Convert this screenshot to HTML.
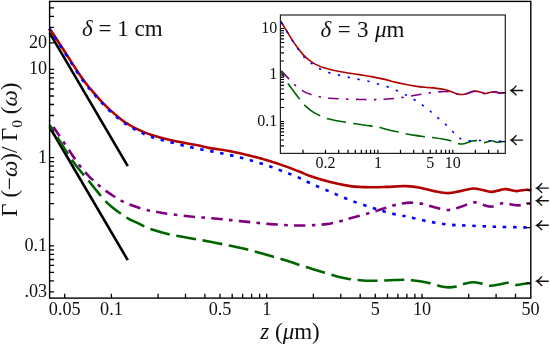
<!DOCTYPE html>
<html><head><meta charset="utf-8"><title>plot</title>
<style>html,body{margin:0;padding:0;background:#fff;}body{width:550px;height:344px;position:relative;overflow:hidden;font-family:"Liberation Serif",serif;}</style>
</head><body>
<svg width="550" height="344" viewBox="0 0 550 344" style="position:absolute;left:0;top:0">
<rect x="0" y="0" width="550" height="344" fill="#fff"/>
<g fill="none" stroke-width="2.6" stroke-linecap="butt" stroke-linejoin="round">
<path d="M49.6,32.9L127.8,166.1" stroke="#000"/>
<path d="M49.6,127L127.8,260.2" stroke="#000"/>
<path d="M49.6,125.0C51.3,127.8 56.3,135.7 60.0,141.5C63.7,147.3 68.7,155.2 72.0,160.0C75.3,164.8 77.8,167.7 80.0,170.5C82.2,173.3 83.5,174.8 85.2,176.8C86.9,178.8 88.5,180.6 90.1,182.6C91.7,184.6 93.3,186.6 95.0,188.7C96.7,190.8 98.3,192.9 100.2,195.1C102.1,197.3 104.2,199.8 106.2,201.8C108.2,203.8 109.9,205.3 112.2,207.2C114.5,209.1 117.5,211.3 120.2,213.2C122.9,215.1 125.6,217.1 128.3,218.6C131.0,220.1 133.6,221.1 136.3,222.4C139.0,223.7 142.0,225.2 144.3,226.3C146.6,227.4 145.8,227.6 150.1,229.0C154.4,230.4 163.5,233.1 170.2,234.6C176.9,236.1 183.5,237.0 190.2,238.2C196.9,239.4 203.6,240.5 210.3,241.8C217.0,243.1 223.8,244.4 230.4,245.8C237.0,247.2 243.5,248.5 250.1,250.2C256.7,251.9 263.5,253.9 270.2,255.8C276.9,257.7 284.2,259.9 290.2,261.8C296.2,263.7 300.4,265.3 306.0,267.1C311.6,268.9 318.4,270.9 324.1,272.6C329.8,274.3 335.9,276.1 340.2,277.2C344.5,278.3 346.9,278.7 350.2,279.2C353.5,279.7 356.8,279.9 360.2,280.2C363.6,280.5 366.9,280.7 370.3,280.8C373.7,280.9 377.0,280.7 380.3,280.6C383.6,280.5 386.5,280.3 390.4,280.2C394.2,280.1 399.8,279.8 403.4,279.8C407.0,279.8 409.2,280.0 412.0,280.2C414.8,280.4 417.1,280.7 420.1,281.2C423.1,281.7 426.8,282.4 430.1,283.2C433.5,284.0 437.2,285.5 440.2,286.2C443.2,286.9 445.5,287.3 448.2,287.4C450.9,287.5 453.5,287.2 456.2,286.6C458.9,286.0 461.4,284.5 464.3,283.8C467.2,283.1 470.3,282.2 473.3,282.2C476.3,282.2 479.5,283.2 482.3,283.8C485.1,284.4 487.4,285.7 490.4,285.8C493.4,285.9 497.4,284.7 500.4,284.2C503.4,283.7 505.8,282.7 508.4,282.8C511.0,282.9 513.6,284.8 516.3,285.0C518.9,285.2 521.8,284.1 524.3,283.8C526.8,283.5 529.9,283.3 531.0,283.2" stroke="#006400" stroke-dasharray="20 6.7" stroke-dashoffset="12.3"/>
<path d="M49.6,28.5C51.4,31.2 56.7,39.2 60.1,44.5C63.5,49.8 66.8,54.8 70.1,60.0C73.4,65.2 77.2,71.2 80.2,75.5C83.2,79.8 86.0,83.5 88.0,86.0C90.0,88.5 90.1,88.5 92.1,90.8C94.1,93.1 97.2,96.9 100.2,100.1C103.2,103.3 106.5,106.8 110.2,110.1C113.9,113.4 119.0,117.7 122.2,120.2C125.4,122.7 127.0,123.5 129.5,125.0C132.0,126.5 134.8,128.0 137.3,129.2C139.8,130.4 142.0,131.4 144.5,132.4C147.0,133.4 149.7,134.3 152.4,135.2C155.2,136.1 158.1,136.9 161.0,137.7C163.9,138.5 166.0,139.0 170.0,139.9C174.0,140.8 180.0,142.0 185.0,143.0C190.0,144.0 195.8,145.0 200.0,145.8C204.2,146.7 205.1,147.2 210.1,148.1C215.1,149.0 223.5,150.0 230.2,151.3C236.9,152.6 243.5,154.0 250.2,155.7C256.9,157.3 264.3,159.4 270.3,161.2C276.3,163.0 281.4,164.8 286.4,166.6C291.3,168.4 296.1,170.2 300.0,171.8C303.9,173.4 305.1,174.4 310.1,176.1C315.1,177.8 323.5,180.4 330.2,182.1C336.9,183.8 343.5,185.2 350.2,186.1C356.9,187.0 364.3,187.2 370.3,187.3C376.3,187.4 381.4,187.1 386.4,186.9C391.3,186.7 396.7,186.4 400.0,186.3C403.3,186.2 402.6,185.9 406.0,186.1C409.4,186.3 415.4,186.9 420.1,187.7C424.8,188.5 429.5,190.2 434.2,191.1C438.9,192.0 443.8,193.1 448.2,193.1C452.6,193.1 456.2,191.9 460.3,191.1C464.4,190.3 469.3,188.7 473.0,188.5C476.7,188.3 479.3,189.3 482.3,189.9C485.3,190.5 488.0,191.9 491.0,191.9C494.0,191.9 497.6,190.6 500.2,190.1C502.8,189.6 503.6,188.9 506.3,189.1C509.0,189.3 513.0,191.0 516.3,191.1C519.6,191.2 523.8,189.8 526.3,189.7C528.8,189.6 530.6,190.2 531.5,190.3" stroke="#b00000"/>
<path d="M49.6,121.0C50.5,122.4 53.3,126.6 55.0,129.2C56.7,131.8 58.3,134.2 60.0,136.7C61.7,139.2 63.3,141.7 65.0,144.2C66.7,146.7 68.3,149.1 70.0,151.6C71.7,154.1 73.3,156.6 75.0,159.0C76.7,161.4 78.3,163.8 80.0,166.0C81.7,168.2 83.3,170.1 85.0,172.0C86.7,173.9 88.3,175.6 90.0,177.3C91.7,179.0 93.3,180.5 95.0,182.0C96.7,183.5 98.1,184.8 100.0,186.3C101.9,187.8 103.8,189.4 106.2,191.1C108.6,192.8 111.5,194.8 114.2,196.5C116.9,198.2 119.5,199.8 122.2,201.2C124.9,202.6 127.3,203.6 130.3,204.8C133.3,206.0 137.0,207.3 140.3,208.3C143.6,209.3 147.1,210.0 150.1,210.7C153.1,211.3 155.1,211.6 158.4,212.2C161.8,212.8 164.9,213.4 170.2,214.1C175.5,214.8 183.5,215.8 190.2,216.5C196.9,217.2 203.6,217.5 210.3,218.1C217.0,218.7 223.8,219.4 230.4,220.1C237.0,220.8 243.5,221.4 250.1,222.1C256.7,222.8 263.5,223.6 270.2,224.1C276.9,224.6 285.2,225.1 290.2,225.3C295.2,225.5 296.3,225.5 300.3,225.5C304.3,225.5 310.0,225.3 314.3,225.1C318.6,224.9 322.1,224.7 326.4,224.1C330.7,223.5 336.0,222.3 340.0,221.3C344.0,220.3 345.1,219.7 350.2,218.3C355.2,216.9 364.3,214.4 370.3,212.7C376.3,210.9 382.4,209.1 386.4,207.8C390.3,206.6 391.7,205.9 394.0,205.2C396.3,204.5 397.3,204.2 400.0,203.8C402.7,203.4 406.3,202.6 410.0,202.6C413.7,202.6 418.1,203.0 422.1,203.8C426.1,204.6 429.9,206.2 434.2,207.2C438.5,208.2 443.9,210.0 448.2,210.0C452.5,210.0 455.8,208.3 460.2,207.0C464.6,205.7 470.4,202.7 474.5,202.4C478.6,202.1 482.1,204.7 485.0,205.4C487.9,206.1 489.3,206.9 492.2,206.5C495.1,206.1 499.2,203.6 502.2,203.2C505.2,202.8 507.6,203.8 510.3,204.2C513.0,204.6 515.6,205.5 518.3,205.4C521.0,205.3 524.2,204.1 526.3,203.8C528.4,203.5 530.2,203.5 531.0,203.4" stroke="#800080" stroke-dasharray="11.5 6.3 3.6 6.3" stroke-dashoffset="20.8"/>
<path d="M49.2,28.8C51.0,31.5 56.3,39.5 59.7,44.8C63.1,50.0 66.4,55.1 69.7,60.3C73.0,65.5 76.8,71.8 79.8,76.2C82.8,80.6 85.7,84.3 87.7,86.9C89.8,89.5 90.0,89.4 92.1,91.8C94.2,94.2 97.2,97.8 100.2,101.1C103.2,104.3 106.5,107.9 110.2,111.3C113.9,114.7 119.0,119.0 122.2,121.5C125.4,124.0 127.0,124.9 129.5,126.4C132.0,128.0 134.8,129.5 137.3,130.8C139.8,132.1 142.0,133.1 144.5,134.2C147.0,135.3 149.7,136.3 152.4,137.2C155.2,138.1 158.1,139.0 161.0,139.8C163.9,140.6 165.2,140.9 170.0,142.1C174.8,143.3 183.3,145.6 190.0,147.1C196.7,148.6 203.3,149.8 210.0,151.1C216.7,152.4 223.3,153.6 230.0,155.1C236.7,156.6 243.5,158.3 250.2,160.2C256.9,162.1 264.3,164.5 270.3,166.6C276.3,168.7 281.4,170.7 286.4,172.6C291.3,174.5 296.1,176.4 300.0,178.2C303.9,179.9 305.1,180.8 310.1,183.1C315.1,185.4 323.5,189.0 330.2,191.8C336.9,194.7 343.5,197.6 350.2,200.2C356.9,202.8 364.3,205.2 370.3,207.2C376.3,209.2 381.4,210.8 386.4,212.2C391.3,213.5 396.1,214.5 400.0,215.3C403.9,216.1 405.0,216.1 410.0,217.2C415.0,218.3 423.5,220.6 430.2,221.8C436.9,223.1 443.5,224.0 450.2,224.7C456.9,225.3 462.9,225.4 470.3,225.7C477.7,226.0 486.1,226.4 494.4,226.7C502.7,227.0 514.2,227.1 520.3,227.3C526.4,227.5 529.2,227.6 531.0,227.7" stroke="#0000ff" stroke-dasharray="3.5 6.66" stroke-dashoffset="1.1"/>
</g>
<rect x="280.4" y="15.0" width="224.9" height="138.4" fill="#fff"/>
<g fill="none" stroke-width="1.6" stroke-linecap="butt" stroke-linejoin="round">
<path d="M280.6,70.5C281.0,71.2 281.9,73.1 283.0,75.0C284.1,76.9 285.3,79.5 287.0,82.1C288.7,84.7 291.1,87.8 293.1,90.5C295.1,93.2 297.1,96.0 299.1,98.5C301.1,101.0 302.9,103.4 305.1,105.6C307.3,107.8 309.6,109.7 312.1,111.4C314.6,113.1 317.5,114.6 320.2,115.8C322.9,117.0 325.4,118.0 328.2,118.8C331.0,119.6 334.3,120.2 337.2,120.8C340.1,121.4 342.3,121.7 345.3,122.2C348.3,122.7 352.0,123.3 355.3,123.8C358.6,124.3 362.0,124.7 365.4,125.2C368.8,125.7 373.0,126.2 375.4,126.6C377.8,127.0 377.7,126.9 380.0,127.5C382.3,128.1 386.1,129.2 389.1,130.0C392.1,130.8 395.3,131.4 398.1,132.0C400.9,132.6 403.2,133.1 406.1,133.7C409.0,134.3 412.2,134.9 415.2,135.4C418.2,135.9 421.2,136.2 424.2,136.6C427.2,137.0 430.3,137.2 433.2,137.6C436.1,138.0 439.1,138.4 441.3,138.8C443.5,139.2 444.8,139.4 446.5,139.8C448.2,140.2 450.1,140.7 451.5,141.1C452.9,141.5 453.9,142.0 455.0,142.4C456.1,142.8 457.0,143.2 458.0,143.5C459.0,143.8 460.0,144.0 461.0,144.0C462.0,144.0 463.0,143.9 464.0,143.7C465.0,143.5 466.1,143.1 467.0,142.8C467.9,142.5 468.6,142.2 469.5,141.9C470.4,141.6 471.6,141.2 472.5,141.0C473.4,140.8 474.3,140.6 475.2,140.6C476.1,140.6 477.0,140.6 478.0,140.8C479.0,141.0 480.3,141.5 481.4,141.8C482.5,142.1 483.5,142.6 484.5,142.6C485.5,142.6 486.5,142.2 487.5,141.9C488.5,141.6 489.7,140.9 490.7,140.8C491.7,140.7 492.5,141.0 493.5,141.2C494.5,141.4 495.6,142.0 496.5,142.2C497.4,142.3 498.2,142.2 499.0,142.1C499.8,142.0 500.3,141.7 501.4,141.6C502.4,141.5 504.6,141.4 505.3,141.4" stroke="#006400" stroke-dasharray="19.5 7.24" stroke-dashoffset="11.74"/>
<path d="M280.6,21.0C281.3,22.2 283.2,25.2 285.0,28.1C286.8,31.0 289.1,34.9 291.1,38.1C293.1,41.3 295.1,44.4 297.1,47.1C299.1,49.9 301.1,52.4 303.1,54.6C305.1,56.8 307.1,58.5 309.1,60.1C311.1,61.7 312.9,62.8 315.2,64.1C317.5,65.3 320.2,66.6 323.2,67.6C326.2,68.6 329.5,69.4 333.2,70.2C336.9,71.0 340.9,71.8 345.3,72.5C349.7,73.2 355.0,73.9 359.3,74.6C363.6,75.3 367.1,75.8 371.4,76.6C375.7,77.4 381.1,78.5 385.0,79.4C388.9,80.3 391.8,81.3 395.1,82.1C398.5,82.9 401.8,83.6 405.1,84.3C408.5,85.0 411.9,85.6 415.2,86.1C418.5,86.6 421.9,87.0 425.2,87.3C428.5,87.6 432.6,87.8 435.2,88.1C437.8,88.4 439.3,88.6 441.0,88.9C442.7,89.2 444.1,89.5 445.3,89.7C446.5,90.0 447.1,90.1 448.1,90.4C449.1,90.7 450.3,91.3 451.3,91.7C452.3,92.1 453.1,92.4 454.1,92.8C455.1,93.2 456.1,93.7 457.3,94.0C458.5,94.3 460.0,94.5 461.2,94.5C462.4,94.5 463.3,94.5 464.5,94.2C465.7,94.0 467.0,93.4 468.2,93.0C469.4,92.6 470.4,92.1 471.5,91.8C472.6,91.5 473.5,91.2 474.5,91.1C475.5,91.0 476.6,91.2 477.5,91.4C478.4,91.6 479.1,91.8 480.2,92.1C481.3,92.4 483.1,93.2 484.3,93.4C485.5,93.6 486.5,93.3 487.5,93.1C488.5,92.9 489.2,92.5 490.3,92.3C491.4,92.1 493.2,91.7 494.3,91.7C495.4,91.7 496.2,92.0 497.0,92.2C497.8,92.4 498.3,92.9 499.3,93.0C500.3,93.1 501.9,93.0 503.0,92.9C504.1,92.9 505.2,92.7 505.6,92.7" stroke="#b00000"/>
<path d="M280.6,69.5C281.3,70.4 283.6,73.2 285.0,74.8C286.4,76.4 287.4,77.4 289.1,79.1C290.8,80.8 292.8,83.1 295.1,85.1C297.4,87.1 300.4,89.5 303.1,91.1C305.8,92.7 308.4,93.6 311.1,94.5C313.8,95.4 316.2,96.1 319.2,96.7C322.2,97.3 325.2,97.8 329.2,98.2C333.2,98.6 338.3,98.8 343.3,99.0C348.3,99.2 354.0,99.4 359.3,99.5C364.6,99.6 370.7,99.6 375.0,99.6C379.3,99.5 381.6,99.4 385.0,99.2C388.4,99.0 391.8,98.8 395.1,98.4C398.5,98.1 401.8,97.6 405.1,97.1C408.5,96.6 411.9,95.9 415.2,95.3C418.5,94.7 421.9,94.0 425.2,93.5C428.5,93.0 431.8,92.4 435.2,92.1C438.6,91.8 442.6,91.5 445.3,91.5C448.0,91.5 449.8,91.8 451.3,92.1C452.8,92.3 453.1,92.7 454.1,93.0C455.1,93.3 456.1,93.9 457.3,94.2C458.5,94.5 460.0,94.7 461.2,94.7C462.4,94.7 463.3,94.7 464.5,94.4C465.7,94.2 467.0,93.6 468.2,93.2C469.4,92.8 470.4,92.3 471.5,92.0C472.6,91.7 473.5,91.4 474.5,91.3C475.5,91.2 476.6,91.4 477.5,91.6C478.4,91.8 479.1,92.0 480.2,92.3C481.3,92.6 483.1,93.4 484.3,93.6C485.5,93.8 486.5,93.5 487.5,93.3C488.5,93.1 489.2,92.7 490.3,92.5C491.4,92.3 493.2,91.9 494.3,91.9C495.4,91.9 496.2,92.2 497.0,92.4C497.8,92.6 498.3,93.1 499.3,93.2C500.3,93.3 501.9,93.1 503.0,93.1C504.1,93.0 505.2,92.9 505.6,92.9" stroke="#800080" stroke-dasharray="10.5 7.3 2.5 7.34" stroke-dashoffset="25.28"/>
<path d="M280.6,21.0C281.3,22.2 283.2,25.4 285.0,28.3C286.8,31.2 289.1,35.2 291.1,38.5C293.1,41.8 295.1,44.9 297.1,47.8C299.1,50.7 301.8,54.1 303.1,55.8C304.4,57.5 303.8,57.0 305.1,58.2C306.4,59.4 308.8,61.5 311.1,63.2C313.5,64.9 316.2,66.9 319.2,68.5C322.2,70.1 325.8,71.6 329.2,72.7C332.6,73.8 335.9,74.4 339.3,75.2C342.7,76.0 346.0,76.8 349.3,77.5C352.6,78.2 356.0,78.8 359.3,79.5C362.6,80.2 366.3,80.8 369.4,81.5C372.5,82.2 374.9,83.1 378.0,84.0C381.1,84.9 384.9,85.8 388.1,86.9C391.3,88.0 394.1,89.3 397.1,90.7C400.1,92.1 403.1,93.5 406.1,95.1C409.1,96.7 412.4,98.5 415.2,100.2C418.0,102.0 420.5,103.6 423.2,105.6C425.9,107.6 428.6,109.9 431.2,112.0C433.8,114.1 436.0,116.2 438.5,118.4C441.0,120.6 443.8,122.7 446.2,125.0C448.6,127.3 451.2,130.1 453.1,132.0C455.0,133.9 456.3,135.2 457.5,136.3C458.7,137.4 459.4,137.9 460.5,138.6C461.6,139.2 462.4,139.8 464.0,140.2C465.6,140.6 467.6,140.8 470.3,140.9C473.0,141.0 476.8,140.5 480.1,140.5C483.4,140.5 486.3,140.7 489.9,140.8C493.4,141.0 498.8,141.3 501.4,141.4C504.0,141.5 504.6,141.6 505.3,141.6" stroke="#0000ff" stroke-dasharray="2.4 7.6" stroke-dashoffset="8.1"/>
</g>
<path d="M49.6,291.9h4.4M49.6,280.9h4.4M49.6,272.4h4.4M49.6,265.4h4.4M49.6,259.5h4.4M49.6,254.3h4.4M49.6,249.8h4.4M49.6,245.8h4.4M49.6,219.2h4.4M49.6,203.7h4.4M49.6,192.7h4.4M49.6,184.2h4.4M49.6,177.2h4.4M49.6,171.3h4.4M49.6,166.1h4.4M49.6,161.6h4.4M49.6,157.6h4.4M49.6,131.0h4.4M49.6,115.5h4.4M49.6,104.5h4.4M49.6,96.0h4.4M49.6,89.0h4.4M49.6,83.1h4.4M49.6,77.9h4.4M49.6,73.4h4.4M49.6,69.4h4.4M49.6,42.8h4.4M49.6,27.3h4.4M49.6,16.3h4.4M49.6,7.8h4.4M64.7,298.1v-4.4M111.4,298.1v-4.4M158.1,298.1v-4.4M185.5,298.1v-4.4M204.9,298.1v-4.4M220.0,298.1v-4.4M232.2,298.1v-4.4M242.6,298.1v-4.4M251.6,298.1v-4.4M259.6,298.1v-4.4M266.7,298.1v-4.4M313.4,298.1v-4.4M340.8,298.1v-4.4M360.2,298.1v-4.4M375.3,298.1v-4.4M387.5,298.1v-4.4M397.9,298.1v-4.4M406.9,298.1v-4.4M414.9,298.1v-4.4M422.0,298.1v-4.4M468.7,298.1v-4.4M496.1,298.1v-4.4M515.5,298.1v-4.4M530.8,190.4h-4.6M530.8,203.4h-4.6M530.8,227.7h-4.6M530.8,283.2h-4.6" stroke="#000" stroke-width="1.3" fill="none"/>
<rect x="49.6" y="1.4" width="481.2" height="296.7" fill="none" stroke="#000" stroke-width="1.4"/>
<path d="M280.4,145.8h3.6M280.4,140.0h3.6M280.4,135.5h3.6M280.4,131.8h3.6M280.4,128.7h3.6M280.4,126.0h3.6M280.4,123.6h3.6M280.4,121.5h3.6M280.4,107.5h3.6M280.4,99.3h3.6M280.4,93.5h3.6M280.4,89.0h3.6M280.4,85.3h3.6M280.4,82.2h3.6M280.4,79.5h3.6M280.4,77.1h3.6M280.4,75.0h3.6M280.4,61.0h3.6M280.4,52.8h3.6M280.4,47.0h3.6M280.4,42.5h3.6M280.4,38.8h3.6M280.4,35.7h3.6M280.4,33.0h3.6M280.4,30.6h3.6M280.4,28.5h3.6M303.0,153.4v-3.6M325.5,153.4v-3.6M338.7,153.4v-3.6M348.1,153.4v-3.6M355.3,153.4v-3.6M361.3,153.4v-3.6M366.3,153.4v-3.6M370.6,153.4v-3.6M374.5,153.4v-3.6M377.9,153.4v-3.6M400.5,153.4v-3.6M413.7,153.4v-3.6M423.0,153.4v-3.6M430.3,153.4v-3.6M436.2,153.4v-3.6M441.2,153.4v-3.6M445.6,153.4v-3.6M449.4,153.4v-3.6M452.8,153.4v-3.6M475.4,153.4v-3.6M488.6,153.4v-3.6M497.9,153.4v-3.6M505.3,92.7h-3.0M505.3,141.7h-3.0" stroke="#000" stroke-width="1.2" fill="none"/>
<rect x="280.4" y="15.0" width="224.9" height="138.4" fill="none" stroke="#222" stroke-width="1.2"/>
<path d="M548.8,188.1H537.2M542.1,183.3Q539.1,186.9 536.6,188.1Q539.1,189.3 542.1,192.9" stroke="#111" stroke-width="1.4" fill="none" stroke-linecap="butt"/>
<path d="M548.8,200.8H537.2M542.1,196.0Q539.1,199.6 536.6,200.8Q539.1,202.0 542.1,205.6" stroke="#111" stroke-width="1.4" fill="none" stroke-linecap="butt"/>
<path d="M548.8,225.3H537.2M542.1,220.5Q539.1,224.1 536.6,225.3Q539.1,226.5 542.1,230.1" stroke="#111" stroke-width="1.4" fill="none" stroke-linecap="butt"/>
<path d="M548.8,281.2H537.2M542.1,276.4Q539.1,280.0 536.6,281.2Q539.1,282.4 542.1,286.0" stroke="#111" stroke-width="1.4" fill="none" stroke-linecap="butt"/>
<path d="M523.1,90.5H511.6M516.4,85.6Q513.4,89.3 511.0,90.5Q513.4,91.7 516.4,95.4" stroke="#111" stroke-width="1.4" fill="none" stroke-linecap="butt"/>
<path d="M523.1,140.1H511.6M516.4,135.2Q513.4,138.9 511.0,140.1Q513.4,141.3 516.4,145.0" stroke="#111" stroke-width="1.4" fill="none" stroke-linecap="butt"/>
</svg>
<svg width="550" height="344" viewBox="0 0 550 344" style="position:absolute;left:0;top:0;will-change:transform">
<g font-family="'Liberation Serif', serif" fill="#111">
<text x="64.7" y="314.8" font-size="18.2" text-anchor="middle">0.05</text>
<text x="111.4" y="314.8" font-size="18.2" text-anchor="middle">0.1</text>
<text x="220.0" y="314.8" font-size="18.2" text-anchor="middle">0.5</text>
<text x="266.7" y="314.8" font-size="18.2" text-anchor="middle">1</text>
<text x="375.3" y="314.8" font-size="18.2" text-anchor="middle">5</text>
<text x="422.0" y="314.8" font-size="18.2" text-anchor="middle">10</text>
<text x="530.6" y="314.8" font-size="18.2" text-anchor="middle">50</text>
<text x="47.2" y="47.7" font-size="18.2" text-anchor="end">20</text>
<text x="47.2" y="74.3" font-size="18.2" text-anchor="end">10</text>
<text x="47.2" y="162.5" font-size="18.2" text-anchor="end">1</text>
<text x="47.2" y="250.7" font-size="18.2" text-anchor="end">0.1</text>
<text x="47.2" y="296.8" font-size="18.2" text-anchor="end">.03</text>
<text x="325.5" y="168.3" font-size="16" text-anchor="middle">0.2</text>
<text x="377.9" y="168.3" font-size="16" text-anchor="middle">1</text>
<text x="430.3" y="168.3" font-size="16" text-anchor="middle">5</text>
<text x="452.8" y="168.3" font-size="16" text-anchor="middle">10</text>
<text x="277.2" y="32.5" font-size="16" text-anchor="end">10</text>
<text x="277.2" y="79.0" font-size="16" text-anchor="end">1</text>
<text x="277.2" y="125.5" font-size="16" text-anchor="end">0.1</text>
<text x="82" y="36.4" font-size="23"><tspan font-style="italic">δ</tspan> = 1 cm</text>
<text x="320.5" y="36.5" font-size="23" word-spacing="0.7"><tspan font-style="italic">δ</tspan> = 3 <tspan font-style="italic">μ</tspan>m</text>
<text x="290" y="339.4" font-size="23" text-anchor="middle"><tspan font-style="italic">z</tspan> (<tspan font-style="italic">μ</tspan>m)</text>
<text transform="translate(17,149.6) rotate(-90)" font-size="23" text-anchor="middle">Γ (−<tspan font-style="italic">ω</tspan>)/ Γ<tspan font-size="15.5" dy="4.5">0</tspan><tspan dy="-4.5"> (</tspan><tspan font-style="italic">ω</tspan>)</text>
</g>
</svg>
</body></html>
